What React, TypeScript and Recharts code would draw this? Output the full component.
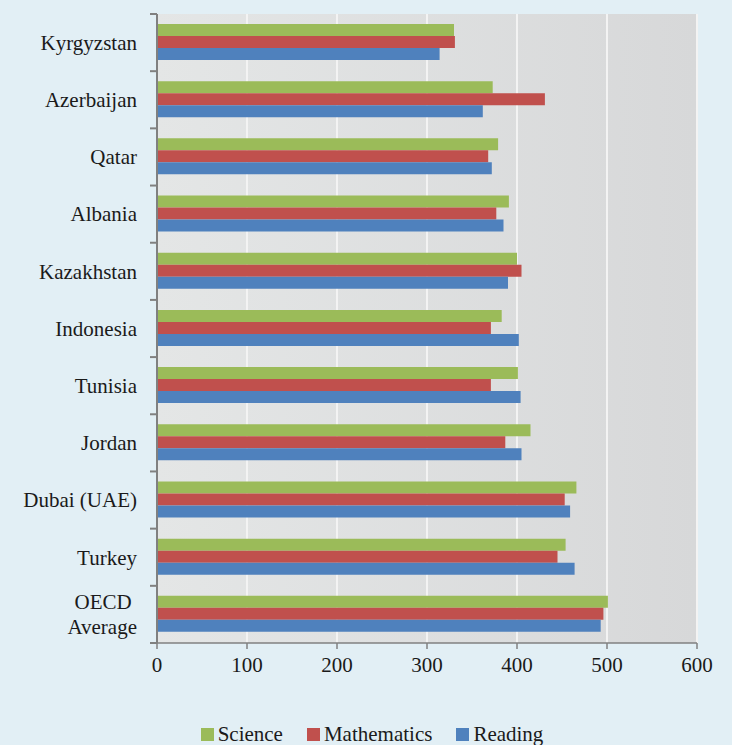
import { BarChart, Bar, XAxis, YAxis, CartesianGrid } from "recharts"

const countries = [
  "Kyrgyzstan",
  "Azerbaijan",
  "Qatar",
  "Albania",
  "Kazakhstan",
  "Indonesia",
  "Tunisia",
  "Jordan",
  "Dubai (UAE)",
  "Turkey",
  "OECD Average",
]
const science = [330, 373, 379, 391, 400, 383, 401, 415, 466, 454, 501]
const mathematics = [331, 431, 368, 377, 405, 371, 371, 387, 453, 445, 496]
const reading = [314, 362, 372, 385, 390, 402, 404, 405, 459, 464, 493]
const xTicks = [0, 100, 200, 300, 400, 500, 600]

const data = countries.map((name, i) => ({
  name,
  science: science[i],
  mathematics: mathematics[i],
  reading: reading[i],
}))

const series = [
  { key: "science", label: "Science", color: "#9bbb59" },
  { key: "mathematics", label: "Mathematics", color: "#c0504d" },
  { key: "reading", label: "Reading", color: "#4f81bd" },
]

const W = 732
const H = 745
const M = { top: 14, right: 35, left: 0, bottom: 0 }
const Y_AXIS_W = 157
const X_AXIS_H = 64
const LEGEND_H = 38
const plotH = H - M.top - M.bottom - X_AXIS_H - LEGEND_H
const band = plotH / countries.length
const font = "Liberation Serif"

function CountryTick(props: any) {
  const { x, y, payload, index } = props
  const axisX = x + 20
  const label: string = payload.value
  const lines = label === "OECD Average" ? ["OECD ", "Average"] : [label]
  return (
    <g>
      <line x1={axisX - 7} x2={axisX} y1={y - band / 2} y2={y - band / 2} stroke="#808080" strokeWidth={2} />
      {index === countries.length - 1 && (
        <line x1={axisX - 7} x2={axisX} y1={y + band / 2} y2={y + band / 2} stroke="#808080" strokeWidth={2} />
      )}
      <text x={x} y={y} textAnchor="end" style={{ fontFamily: font, fontSize: 21, fill: "#1a1a1a", whiteSpace: "pre" }}>
        {lines.map((l, i) => (
          <tspan key={i} x={x} dy={lines.length === 1 ? "0.35em" : i === 0 ? "-0.25em" : "1.2em"}>
            {l}
          </tspan>
        ))}
      </text>
    </g>
  )
}

function LegendBox() {
  return (
    <div
      style={{
        height: LEGEND_H,
        boxSizing: "border-box",
        paddingTop: 16,
        paddingLeft: 12,
        display: "flex",
        justifyContent: "center",
        alignItems: "center",
        fontFamily: font,
        fontSize: 21,
        color: "#1a1a1a",
      }}
    >
      {series.map((s, i) => (
        <div key={s.key} style={{ display: "flex", alignItems: "center", marginLeft: i === 0 ? 0 : 24 }}>
          <span style={{ width: 13, height: 13, background: s.color, display: "inline-block", marginRight: 4 }} />
          <span>{s.label}</span>
        </div>
      ))}
    </div>
  )
}

export default function App() {
  return (
    <div style={{ position: "absolute", left: 0, top: 0, width: W, height: H, background: "#e2eff5" }}>
      <BarChart
        width={W}
        height={H - LEGEND_H}
        data={data}
        layout="vertical"
        margin={M}
        barCategoryGap="17.5%"
        barGap={0}
      >
        <defs>
          <linearGradient id="plotBg" x1="0" y1="0" x2="1" y2="0">
            <stop offset="0%" stopColor="#e4e6e6" />
            <stop offset="100%" stopColor="#d7d8d9" />
          </linearGradient>
        </defs>
        <CartesianGrid horizontal={false} stroke="#f3f3f3" strokeWidth={2} fill="url(#plotBg)" />
        <XAxis
          type="number"
          domain={[0, 600]}
          ticks={xTicks}
          height={X_AXIS_H}
          stroke="#808080"
          strokeWidth={1.5}
          tickSize={6}
          tickMargin={8}
          tick={{ fill: "#1a1a1a", fontSize: 21, style: { fontFamily: font } }}
        />
        <YAxis
          type="category"
          dataKey="name"
          width={Y_AXIS_W}
          stroke="#808080"
          strokeWidth={2}
          tickLine={false}
          tickSize={0}
          tickMargin={20}
          interval={0}
          tick={<CountryTick />}
        />
        {series.map((s) => (
          <Bar key={s.key} dataKey={s.key} name={s.label} fill={s.color} isAnimationActive={false} />
        ))}
      </BarChart>
      <LegendBox />
    </div>
  )
}
